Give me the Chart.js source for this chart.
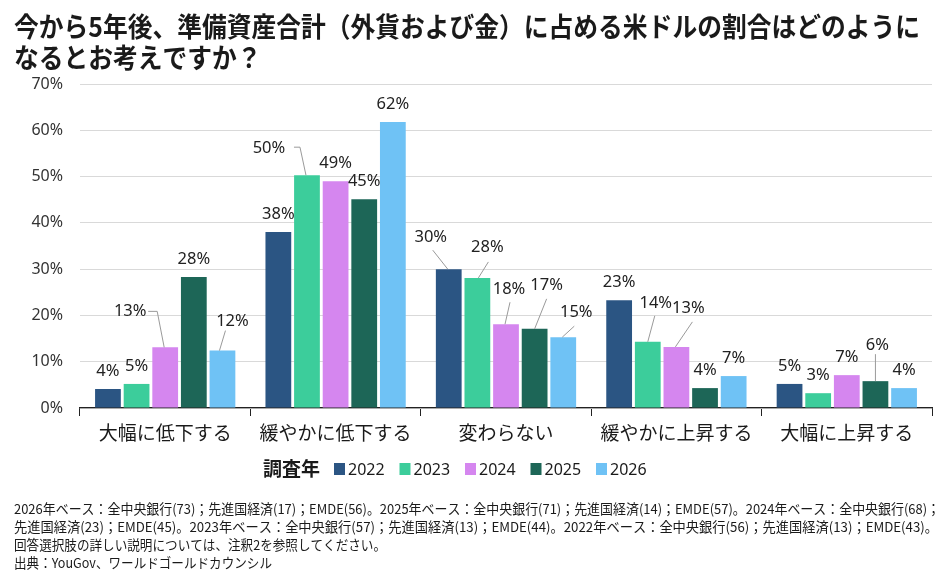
<!DOCTYPE html>
<html>
<head>
<meta charset="utf-8">
<script src="https://cdn.jsdelivr.net/npm/chart.js@4.4.0/dist/chart.umd.min.js"></script>
<style>
html,body{margin:0;padding:0;background:#fff;}
#wrap{width:945px;height:574px;position:relative;}
</style>
</head>
<body>
<div id="wrap"><canvas id="c" width="945" height="574"></canvas></div>
<script>
const titleLines = ['今から5年後、準備資産合計（外貨および金）に占める米ドルの割合はどのように', 'なるとお考えですか？'];
const categories = ['大幅に低下する', '緩やかに低下する', '変わらない', '緩やかに上昇する', '大幅に上昇する'];
const years = ['2022', '2023', '2024', '2025', '2026'];
const values2022 = [4.1, 38.0, 30.0, 23.3, 5.2];
const values2023 = [5.2, 50.3, 28.1, 14.3, 3.2];
const values2024 = [13.1, 49.0, 18.1, 13.2, 7.1];
const values2025 = [28.3, 45.1, 17.1, 4.3, 5.8];
const values2026 = [12.4, 61.8, 15.3, 6.9, 4.3];
const yTicks = [0, 10, 20, 30, 40, 50, 60, 70];
const legendTitle = '調査年';
const footnotes = [
  '2026年ベース：全中央銀行(73)；先進国経済(17)；EMDE(56)。2025年ベース：全中央銀行(71)；先進国経済(14)；EMDE(57)。2024年ベース：全中央銀行(68)；',
  '先進国経済(23)；EMDE(45)。2023年ベース：全中央銀行(57)；先進国経済(13)；EMDE(44)。2022年ベース：全中央銀行(56)；先進国経済(13)；EMDE(43)。',
  '回答選択肢の詳しい説明については、注釈2を参照してください。',
  '出典：YouGov、ワールドゴールドカウンシル'
];

const seriesValues = [values2022, values2023, values2024, values2025, values2026];
const seriesColors = ['#2b5583', '#3ccd9b', '#d586ef', '#1d6657', '#6fc2f5'];
const CJK = "'Noto Sans CJK JP', 'Noto Sans', sans-serif";
const LAT = "'Noto Sans', 'Noto Sans CJK JP', sans-serif";

// label placement tweaks (pixel offsets relative to bar top centre) keyed "category-series"
const labelPlacement = {
  '0-2': {dx: -35, dy: -36, line: [[-17, -36], [-8, -36], [-1, 0]]},
  '0-4': {dx: 10, dy: -29, line: [[3, -20], [-3, 0]]},
  '1-1': {dx: -38, dy: -27, line: [[-13, -28], [-7, -28], [-1, 0]]},
  '2-0': {dx: -18, dy: -32, line: [[-16, -19], [-1, 0]]},
  '2-1': {dx: 10, dy: -31, line: [[11, -16], [1, 0]]},
  '2-2': {dx: 3, dy: -35, line: [[4, -22], [-1, 0]]},
  '2-3': {dx: 12, dy: -44, line: [[12, -30], [0, 0]]},
  '2-4': {dx: 13, dy: -25, line: [[11, -11], [-1, 0]]},
  '3-1': {dx: 8, dy: -39, line: [[7, -26], [0, 0]]},
  '3-2': {dx: 12, dy: -39, line: [[16, -25], [-1, 0]]},
  '4-3': {dx: 2, dy: -36, line: [[0, -27], [0, 0]]}
};

const decor = {
  id: 'decor',
  beforeDraw(chart) {
    const ctx = chart.ctx;
    ctx.save();
    ctx.fillStyle = '#fff';
    ctx.fillRect(0, 0, chart.width, chart.height);
    ctx.restore();
  },
  afterDraw(chart) {
    const ctx = chart.ctx;
    ctx.save();
    // title
    ctx.fillStyle = '#1a1a1a';
    ctx.font = 'bold 27px ' + CJK;
    ctx.textBaseline = 'middle';
    ctx.textAlign = 'left';
    const w1 = ctx.measureText(titleLines[0]).width;
    const r = Math.min(1, 906 / w1);
    [27, 58].forEach((y, i) => {
      ctx.save();
      ctx.translate(14, y);
      ctx.scale(r, 1);
      ctx.fillText(titleLines[i], 0, 0);
      ctx.restore();
    });
    // legend
    const ly = 469;
    ctx.font = 'bold 19px ' + CJK;
    ctx.fillStyle = '#1a1a1a';
    ctx.fillText(legendTitle, 263, ly);
    ctx.font = '16px ' + LAT;
    years.forEach((yr, i) => {
      const bx = 334 + i * 65.5;
      ctx.fillStyle = seriesColors[i];
      ctx.fillRect(bx, ly - 6, 11, 12);
      ctx.fillStyle = '#1a1a1a';
      ctx.fillText(yr, bx + 14, ly + 1);
    });
    // footnotes
    ctx.font = '13.5px ' + CJK;
    ctx.fillStyle = '#1a1a1a';
    const targets = [926, 924, 372, 258];
    [509, 527, 545, 563].forEach((y, i) => {
      const w = ctx.measureText(footnotes[i]).width;
      const s = targets[i] ? Math.min(1, targets[i] / w) : 1;
      ctx.save();
      ctx.translate(14, y);
      ctx.scale(s, 1);
      ctx.fillText(footnotes[i], 0, 0);
      ctx.restore();
    });
    ctx.restore();
  },
  afterDatasetsDraw(chart) {
    const ctx = chart.ctx;
    ctx.save();
    ctx.font = '16.5px ' + LAT;
    ctx.textAlign = 'center';
    ctx.textBaseline = 'middle';
    chart.data.datasets.forEach((ds, si) => {
      const meta = chart.getDatasetMeta(si);
      meta.data.forEach((el, ci) => {
        const p = labelPlacement[ci + '-' + si] || {dx: 0, dy: -18};
        const x = el.x, y = el.y;
        if (p.line) {
          ctx.strokeStyle = '#9a9a9a';
          ctx.lineWidth = 1;
          ctx.beginPath();
          p.line.forEach((pt, k) => {
            if (k === 0) ctx.moveTo(x + pt[0], y + pt[1]);
            else ctx.lineTo(x + pt[0], y + pt[1]);
          });
          ctx.stroke();
        }
        ctx.fillStyle = '#222';
        ctx.fillText(Math.round(ds.data[ci]) + '%', x + p.dx, y + p.dy);
      });
    });
    ctx.restore();
  }
};

new Chart(document.getElementById('c'), {
  type: 'bar',
  data: {
    labels: categories,
    datasets: years.map((yr, i) => ({
      label: yr,
      data: seriesValues[i],
      backgroundColor: seriesColors[i],
      borderWidth: 0,
      categoryPercentage: 0.84,
      barPercentage: 0.9
    }))
  },
  options: {
    responsive: false,
    animation: false,
    devicePixelRatio: 1,
    layout: {padding: {top: 84, bottom: 126, left: 0, right: 13}},
    plugins: {legend: {display: false}, title: {display: false}, tooltip: {enabled: false}},
    scales: {
      x: {
        afterFit(scale) { scale.height = 40; },
        grid: {display: true, drawOnChartArea: false, drawTicks: true, tickLength: 8, color: '#222', offset: true},
        border: {display: true, color: '#222', width: 1.2},
        ticks: {font: {family: CJK, size: 19}, color: '#1a1a1a', padding: 5, maxRotation: 0, autoSkip: false}
      },
      y: {
        min: 0, max: 70,
        afterFit(scale) { scale.width = 80; },
        afterBuildTicks(scale) { scale.ticks = yTicks.map(v => ({value: v})); },
        grid: {color: '#d9d9d9', drawTicks: false},
        border: {display: false},
        ticks: {font: {family: LAT, size: 16}, color: '#333', padding: 17, callback: v => v + '%'}
      }
    }
  },
  plugins: [decor]
});
</script>
</body>
</html>
